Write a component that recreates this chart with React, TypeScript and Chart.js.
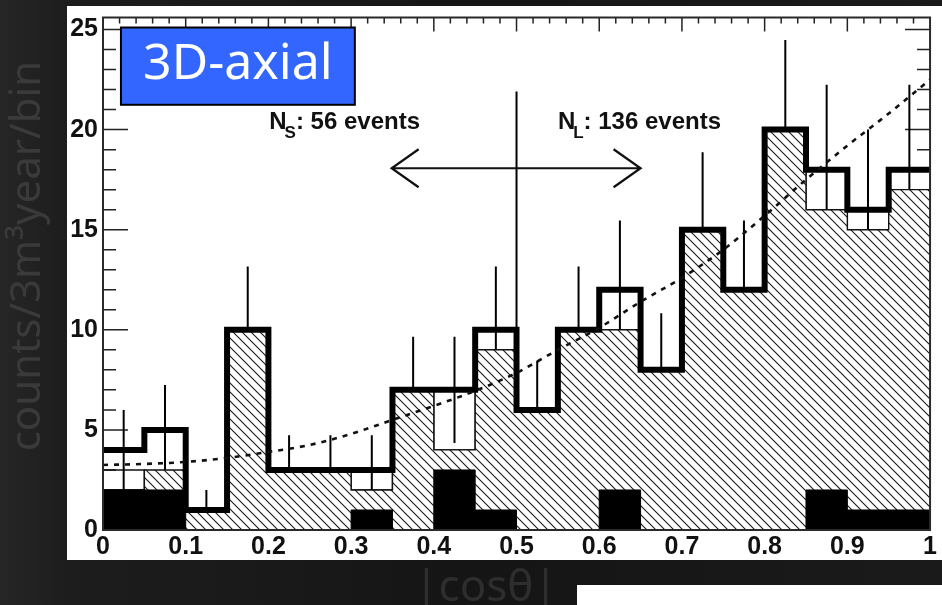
import React, { useEffect, useRef } from "react";
import { Chart, registerables } from "chart.js";

Chart.register(...registerables);

// ---------- data ----------
const binEdges = [0, 0.05, 0.1, 0.15, 0.2, 0.25, 0.3, 0.35, 0.4, 0.45, 0.5, 0.55, 0.6, 0.65, 0.7, 0.75, 0.8, 0.85, 0.9, 0.95, 1.0];
const observedCounts = [4, 5, 1, 10, 3, 3, 3, 7, 7, 10, 6, 10, 12, 8, 15, 12, 20, 18, 16, 18];
const observedErrors = [2.0, 2.24, 1.0, 3.16, 1.73, 1.73, 1.73, 2.65, 2.65, 3.16, 2.45, 3.16, 3.46, 2.83, 3.87, 3.46, 4.47, 4.24, 4.0, 4.24];
const outlineCounts = [3, 3, 1, 10, 3, 3, 3, 7, 7, 10, 6, 10, 12, 8, 15, 12, 20, 18, 16, 18];
const hatchedCounts = [2, 3, 1, 10, 3, 3, 2, 7, 4, 9, 6, 10, 10, 8, 15, 12, 20, 16, 15, 17];
const blackCounts = [2, 2, 0, 0, 0, 0, 1, 0, 3, 1, 0, 0, 2, 0, 0, 0, 0, 2, 1, 1];
const fitX = [0, 0.05, 0.1, 0.15, 0.2, 0.25, 0.3, 0.35, 0.4, 0.45, 0.5, 0.55, 0.6, 0.65, 0.7, 0.75, 0.8, 0.85, 0.9, 0.95, 1.0];
const fitY = [3.25, 3.3, 3.4, 3.6, 3.9, 4.25, 4.8, 5.5, 6.2, 6.95, 7.85, 9.0, 10.1, 11.4, 12.6, 14.0, 15.7, 17.5, 19.2, 20.8, 22.5];

const xTickValues = [0, 0.1, 0.2, 0.3, 0.4, 0.5, 0.6, 0.7, 0.8, 0.9, 1.0];
const xTickLabels = ["0", "0.1", "0.2", "0.3", "0.4", "0.5", "0.6", "0.7", "0.8", "0.9", "1"];
const yTickValues = [0, 5, 10, 15, 20, 25];
const yTickLabels = ["0", "5", "10", "15", "20", "25"];
const xMinorDivisions = 5;
const yMinorDivisions = 5;
const yMax = 25.6;

const dividerX = 0.5;
const dividerTop = 21.9;
const arrowFrom = 0.349;
const arrowTo = 0.65;
const arrowY = 18.07;
const nsLabel = { x: 0.201, y: 20.05, main: "N", sub: "S", rest: ": 56 events" };
const nlLabel = { x: 0.55, y: 20.05, main: "N", sub: "L", rest: ": 136 events" };
const tagText = "3D-axial";
const yTitle = "counts/3m³year/bin";
const xTitle = "|cosθ|";

const ROOT_FONT = '"Liberation Sans", Arial, Helvetica, sans-serif';
const SLIDE_FONT = '"Noto Sans", "Open Sans", sans-serif';

const stepPoints = (vals: number[]) =>
  binEdges.map((x, i) => ({ x, y: vals[Math.min(i, vals.length - 1)] }));

function boxPoints() {
  const pts: { x: number; y: number | null }[] = [];
  for (let i = 0; i < outlineCounts.length; i++) {
    const lo = hatchedCounts[i];
    const hi = outlineCounts[i];
    if (hi <= lo) continue;
    const x0 = binEdges[i];
    const x1 = binEdges[i + 1];
    pts.push({ x: x0, y: lo }, { x: x0, y: hi }, { x: x1, y: hi }, { x: x1, y: lo }, { x: x0, y: lo }, { x: x1, y: null });
  }
  return pts;
}

function errorPoints() {
  const pts: { x: number; y: number | null }[] = [];
  for (let i = 0; i < observedCounts.length; i++) {
    const c = (binEdges[i] + binEdges[i + 1]) / 2;
    pts.push({ x: c, y: observedCounts[i] - observedErrors[i] }, { x: c, y: observedCounts[i] + observedErrors[i] }, { x: c, y: null });
  }
  return pts;
}

function makeHatch(): CanvasPattern | string {
  const s = 9;
  const c = document.createElement("canvas");
  c.width = s;
  c.height = s;
  const g = c.getContext("2d");
  if (!g) return "#ccc";
  g.fillStyle = "#ffffff";
  g.fillRect(0, 0, s, s);
  g.strokeStyle = "#1a1a1a";
  g.lineWidth = 1.1;
  g.beginPath();
  g.moveTo(-s, -s);
  g.lineTo(2 * s, 2 * s);
  g.moveTo(-s, 0);
  g.lineTo(s, 2 * s);
  g.moveTo(0, -s);
  g.lineTo(2 * s, s);
  g.stroke();
  const p = g.createPattern(c, "repeat");
  return p || "#ccc";
}

const backgroundPlugin = {
  id: "slideBackground",
  beforeDraw(chart: any) {
    const { ctx, width, height } = chart;
    ctx.save();
    const g = ctx.createLinearGradient(0, 0, width, 0);
    g.addColorStop(0, "#262626");
    g.addColorStop(0.07, "#1d1d1d");
    g.addColorStop(0.5, "#151515");
    g.addColorStop(1, "#1a1a1a");
    ctx.fillStyle = g;
    ctx.fillRect(0, 0, width, height);
    // white figure panel
    ctx.fillStyle = "#ffffff";
    ctx.fillRect(67, 6, width - 67, 554);
    ctx.fillRect(577, 585, width - 577, height - 585);

    // axis titles on the slide background
    ctx.fillStyle = "#3a3a3a";
    ctx.font = `42px ${SLIDE_FONT}`;
    ctx.textBaseline = "alphabetic";
    ctx.save();
    ctx.translate(40, 256);
    ctx.rotate(-Math.PI / 2);
    ctx.textAlign = "center";
    ctx.fillText(yTitle, 0, 0);
    ctx.restore();
    ctx.fillStyle = "#2e2e2e";
    ctx.font = `44px ${SLIDE_FONT}`;
    ctx.textAlign = "center";
    ctx.fillText(xTitle, 486, 601);
    ctx.restore();
  },
};

const ticksPlugin = {
  id: "insideTicks",
  beforeDatasetsDraw(chart: any) {
    const { ctx, chartArea: a, scales } = chart;
    const xs = scales.x;
    const ys = scales.y;
    ctx.save();
    ctx.strokeStyle = "#222";
    ctx.lineWidth = 1.5;
    ctx.beginPath();
    for (let i = 0; i < xTickValues.length - 1; i++) {
      for (let k = 0; k < xMinorDivisions; k++) {
        const v = xTickValues[i] + ((xTickValues[i + 1] - xTickValues[i]) * k) / xMinorDivisions;
        const px = xs.getPixelForValue(v);
        const len = k === 0 ? 14 : 6;
        ctx.moveTo(px, a.top);
        ctx.lineTo(px, a.top + len);
        ctx.moveTo(px, a.bottom);
        ctx.lineTo(px, a.bottom - len);
      }
    }
    for (let i = 0; i < yTickValues.length; i++) {
      const next = i + 1 < yTickValues.length ? yTickValues[i + 1] : yTickValues[i] + (yTickValues[1] - yTickValues[0]);
      for (let k = 0; k < yMinorDivisions; k++) {
        const v = yTickValues[i] + ((next - yTickValues[i]) * k) / yMinorDivisions;
        if (v > yMax) continue;
        const py = ys.getPixelForValue(v);
        const len = k === 0 ? 25 : 13;
        ctx.moveTo(a.left, py);
        ctx.lineTo(a.left + len, py);
        ctx.moveTo(a.right, py);
        ctx.lineTo(a.right - len, py);
      }
    }
    ctx.stroke();
    ctx.restore();
  },
};

function drawSubLabel(ctx: CanvasRenderingContext2D, x: number, y: number, main: string, sub: string, rest: string) {
  ctx.font = `bold 24px ${ROOT_FONT}`;
  ctx.textAlign = "left";
  ctx.textBaseline = "alphabetic";
  ctx.fillText(main, x, y);
  const w = ctx.measureText(main).width - 2;
  ctx.font = `bold 17px ${ROOT_FONT}`;
  ctx.fillText(sub, x + w, y + 9);
  const ws = ctx.measureText(sub).width;
  ctx.font = `bold 24px ${ROOT_FONT}`;
  ctx.fillText(rest, x + w + ws, y);
}

const overlayPlugin = {
  id: "overlay",
  afterDatasetsDraw(chart: any) {
    const { ctx, chartArea: a, scales } = chart;
    const xs = scales.x;
    const ys = scales.y;
    ctx.save();
    // frame
    ctx.strokeStyle = "#2a2a2a";
    ctx.lineWidth = 2;
    ctx.strokeRect(a.left, a.top, a.right - a.left, a.bottom - a.top);

    // double arrow
    const ax0 = xs.getPixelForValue(arrowFrom);
    const ax1 = xs.getPixelForValue(arrowTo);
    const ay = ys.getPixelForValue(arrowY);
    ctx.strokeStyle = "#111";
    ctx.lineWidth = 2.2;
    ctx.beginPath();
    ctx.moveTo(ax0, ay);
    ctx.lineTo(ax1, ay);
    ctx.moveTo(ax0 + 27, ay - 19);
    ctx.lineTo(ax0, ay);
    ctx.lineTo(ax0 + 27, ay + 19);
    ctx.moveTo(ax1 - 27, ay - 19);
    ctx.lineTo(ax1, ay);
    ctx.lineTo(ax1 - 27, ay + 19);
    ctx.stroke();

    ctx.fillStyle = "#111";
    for (const l of [nsLabel, nlLabel]) {
      drawSubLabel(ctx, xs.getPixelForValue(l.x), ys.getPixelForValue(l.y), l.main, l.sub, l.rest);
    }
    ctx.restore();
  },
  afterDraw(chart: any) {
    const { ctx, scales } = chart;
    const xs = scales.x;
    const ys = scales.y;
    const left = xs.getPixelForValue(0.0217);
    const right = xs.getPixelForValue(0.3045);
    const top = ys.getPixelForValue(25.1);
    const bottom = ys.getPixelForValue(21.24);
    ctx.save();
    ctx.fillStyle = "#3366ff";
    ctx.fillRect(left, top, right - left, bottom - top);
    ctx.strokeStyle = "#000";
    ctx.lineWidth = 2;
    ctx.strokeRect(left, top, right - left, bottom - top);
    ctx.fillStyle = "#ffffff";
    ctx.font = `50px ${SLIDE_FONT}`;
    ctx.textAlign = "center";
    ctx.textBaseline = "alphabetic";
    ctx.fillText(tagText, (left + right) / 2, top + 51);
    ctx.restore();
  },
};

export default function App() {
  const canvasRef = useRef<HTMLCanvasElement | null>(null);

  useEffect(() => {
    const canvas = canvasRef.current;
    if (!canvas) return;
    const hatch = makeHatch();

    const chart = new Chart(canvas, {
      type: "line",
      data: {
        datasets: [
          {
            label: "fit",
            data: fitX.map((x, i) => ({ x, y: fitY[i] })),
            borderColor: "#111",
            borderWidth: 2.6,
            borderDash: [5, 6],
            cubicInterpolationMode: "monotone",
            fill: false,
            pointRadius: 0,
            order: 1,
          },
          {
            label: "observed",
            data: stepPoints(observedCounts),
            stepped: true,
            borderColor: "#000",
            borderWidth: 6,
            borderJoinStyle: "miter",
            borderCapStyle: "butt",
            fill: false,
            pointRadius: 0,
            order: 2,
          },
          {
            label: "black",
            data: stepPoints(blackCounts),
            stepped: true,
            borderColor: "#000",
            borderWidth: 1,
            backgroundColor: "#000",
            fill: "origin",
            pointRadius: 0,
            order: 3,
          },
          {
            label: "hatched",
            data: stepPoints(hatchedCounts),
            stepped: true,
            borderColor: "#111",
            borderWidth: 1.4,
            backgroundColor: hatch as any,
            fill: "origin",
            pointRadius: 0,
            order: 4,
          },
          {
            label: "errors",
            data: errorPoints(),
            borderColor: "#000",
            borderWidth: 2,
            borderCapStyle: "butt",
            fill: false,
            pointRadius: 0,
            spanGaps: false,
            order: 5,
          },
          {
            label: "divider",
            data: [
              { x: dividerX, y: 0 },
              { x: dividerX, y: dividerTop },
            ],
            borderColor: "#000",
            borderWidth: 2,
            fill: false,
            pointRadius: 0,
            order: 6,
          },
          {
            label: "outline",
            data: boxPoints(),
            borderColor: "#111",
            borderWidth: 1.4,
            borderJoinStyle: "miter",
            fill: false,
            pointRadius: 0,
            spanGaps: false,
            order: 7,
          },
        ] as any,
      },
      options: {
        animation: false,
        responsive: false,
        devicePixelRatio: 1,
        events: [],
        layout: { padding: { left: 0, top: 13, right: 8, bottom: 0 } },
        plugins: {
          legend: { display: false },
          tooltip: { enabled: false },
          title: { display: false },
        },
        scales: {
          x: {
            type: "linear",
            min: 0,
            max: 1,
            grid: { display: false, drawTicks: false },
            border: { display: false },
            afterBuildTicks: (scale: any) => {
              scale.ticks = xTickValues.map((v) => ({ value: v }));
            },
            afterFit: (scale: any) => {
              scale.height = 75;
            },
            ticks: {
              autoSkip: false,
              maxRotation: 0,
              minRotation: 0,
              padding: 5,
              color: "#111",
              font: { family: ROOT_FONT, size: 25, weight: "bold", lineHeight: 1 },
              callback: (_v: any, i: number) => xTickLabels[i],
            },
          },
          y: {
            type: "linear",
            min: 0,
            max: yMax,
            grid: { display: false, drawTicks: false },
            border: { display: false },
            afterBuildTicks: (scale: any) => {
              scale.ticks = yTickValues.map((v) => ({ value: v }));
            },
            afterFit: (scale: any) => {
              scale.width = 103;
            },
            ticks: {
              autoSkip: false,
              padding: 5,
              color: "#111",
              font: { family: ROOT_FONT, size: 25, weight: "bold", lineHeight: 1 },
              callback: (_v: any, i: number) => yTickLabels[i],
            },
          },
        },
      } as any,
      plugins: [backgroundPlugin, ticksPlugin, overlayPlugin],
    });

    return () => chart.destroy();
  }, []);

  return (
    <div style={{ position: "fixed", left: 0, top: 0, width: 942, height: 605, overflow: "hidden" }}>
      <canvas ref={canvasRef} width={942} height={605} style={{ display: "block", width: 942, height: 605 }} />
    </div>
  );
}
